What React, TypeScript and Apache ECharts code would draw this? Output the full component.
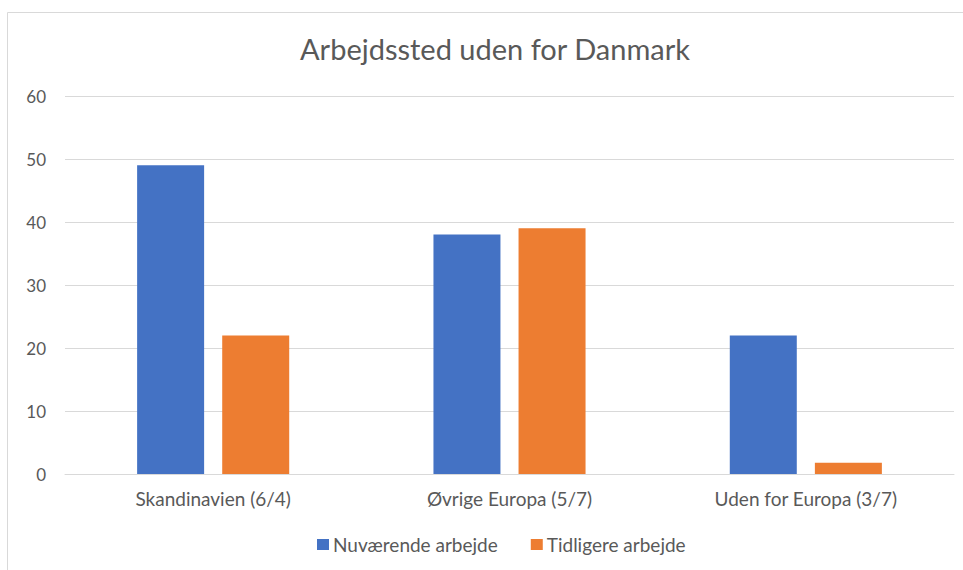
import React, { useEffect, useRef } from "react";
import * as echarts from "echarts";

const categories = ["Skandinavien (6/4)", "Øvrige Europa (5/7)", "Uden for Europa (3/7)"];
const currentWork = [49, 38, 22];
const previousWork = [22, 39, 1.8];
const seriesNames = ["Nuværende arbejde", "Tidligere arbejde"];
const titleText = "Arbejdssted uden for Danmark";

export default function App() {
  const ref = useRef<HTMLDivElement>(null);
  useEffect(() => {
    if (!ref.current) return;
    const chart = echarts.init(ref.current, null, { renderer: "svg" });
    const font = "Lato, 'Open Sans', sans-serif";
    chart.setOption({
      animation: false,
      backgroundColor: "#ffffff",
      textStyle: { fontFamily: font },
      title: {
        text: titleText,
        left: "center",
        top: 29,
        textStyle: { fontFamily: font, fontSize: 29, fontWeight: "normal", color: "#595959" },
      },
      graphic: [
        {
          type: "rect",
          shape: { x: 7.5, y: 12.5, width: 1000, height: 620 },
          style: { fill: "none", stroke: "#d9d9d9", lineWidth: 1 },
          silent: true,
        },
      ],
      legend: {
        data: seriesNames,
        top: 535,
        left: 317,
        padding: 0,
        icon: "rect",
        itemWidth: 12,
        itemHeight: 11,
        itemGap: 33,
        textStyle: { fontFamily: font, fontSize: 19, color: "#595959", padding: [0, 0, 0, -1] },
      },
      grid: { left: 65, right: 36, top: 96, bottom: 96 },
      xAxis: {
        type: "category",
        data: categories,
        axisLine: { lineStyle: { color: "#d9d9d9", width: 1 } },
        axisTick: { show: false },
        axisLabel: { fontFamily: font, fontSize: 19, color: "#595959", margin: 15 },
      },
      yAxis: {
        type: "value",
        min: 0,
        max: 60,
        interval: 10,
        axisLine: { show: false },
        axisTick: { show: false },
        splitLine: { lineStyle: { color: "#d9d9d9", width: 1 } },
        axisLabel: { fontFamily: font, fontSize: 17, color: "#595959", margin: 19 },
      },
      series: [
        {
          name: seriesNames[0],
          type: "bar",
          data: currentWork,
          barWidth: 67,
          barGap: "27%",
          itemStyle: { color: "#4472C4" },
        },
        {
          name: seriesNames[1],
          type: "bar",
          data: previousWork,
          barWidth: 67,
          barGap: "27%",
          itemStyle: { color: "#ED7D31" },
        },
      ],
    });
    return () => chart.dispose();
  }, []);
  return (
    <div
      ref={ref}
      style={{ position: "fixed", left: 0, top: 0, width: 990, height: 570 }}
    />
  );
}
